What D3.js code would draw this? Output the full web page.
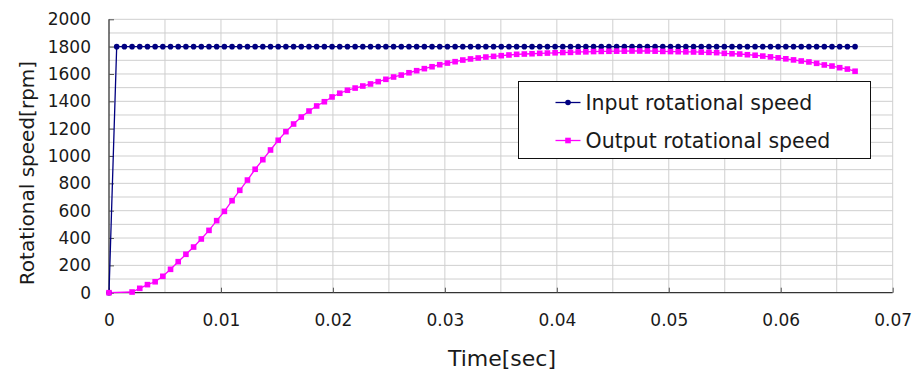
<!DOCTYPE html>
<html>
<head>
<meta charset="utf-8">
<script src="https://cdn.jsdelivr.net/npm/d3@7"></script>
<style>
  body { margin: 0; background: #fff; }
  svg { display: block; font-family: "DejaVu Sans", sans-serif; }
</style>
</head>
<body>
<script>
// sample times [sec]
const timeSec = [
  0, 0.000687, 0.001374, 0.002061, 0.002748, 0.003435, 0.004122, 0.004809, 0.005496, 0.006183,
  0.00687, 0.007557, 0.008244, 0.008931, 0.009618, 0.010305, 0.010992, 0.011679, 0.012366, 0.013053,
  0.01374, 0.014427, 0.015114, 0.015801, 0.016488, 0.017175, 0.017862, 0.018549, 0.019236, 0.019923,
  0.02061, 0.021297, 0.021984, 0.022671, 0.023358, 0.024045, 0.024732, 0.025419, 0.026106, 0.026793,
  0.02748, 0.028167, 0.028854, 0.029541, 0.030228, 0.030915, 0.031602, 0.032289, 0.032976, 0.033663,
  0.03435, 0.035037, 0.035724, 0.036411, 0.037098, 0.037785, 0.038472, 0.039159, 0.039846, 0.040533,
  0.04122, 0.041907, 0.042594, 0.043281, 0.043968, 0.044655, 0.045342, 0.046029, 0.046716, 0.047403,
  0.04809, 0.048777, 0.049464, 0.050151, 0.050838, 0.051525, 0.052212, 0.052899, 0.053586, 0.054273,
  0.05496, 0.055647, 0.056334, 0.057021, 0.057708, 0.058395, 0.059082, 0.059769, 0.060456, 0.061143,
  0.06183, 0.062517, 0.063204, 0.063891, 0.064578, 0.065265, 0.065952, 0.066639
]

// input rotational speed [rpm]
const inputSpeed = [
  0, 1800, 1800, 1800, 1800, 1800, 1800, 1800, 1800, 1800,
  1800, 1800, 1800, 1800, 1800, 1800, 1800, 1800, 1800, 1800,
  1800, 1800, 1800, 1800, 1800, 1800, 1800, 1800, 1800, 1800,
  1800, 1800, 1800, 1800, 1800, 1800, 1800, 1800, 1800, 1800,
  1800, 1800, 1800, 1800, 1800, 1800, 1800, 1800, 1800, 1800,
  1800, 1800, 1800, 1800, 1800, 1800, 1800, 1800, 1800, 1800,
  1800, 1800, 1800, 1800, 1800, 1800, 1800, 1800, 1800, 1800,
  1800, 1800, 1800, 1800, 1800, 1800, 1800, 1800, 1800, 1800,
  1800, 1800, 1800, 1800, 1800, 1800, 1800, 1800, 1800, 1800,
  1800, 1800, 1800, 1800, 1800, 1800, 1800, 1800
]

// output rotational speed [rpm] (blank cells = null)
const outputSpeed = [
  0, null, null, 5, 32, 59, 80, 120, 171, 227,
  281, 334, 393, 456, 527, 595, 673, 749, 824, 903,
  973, 1044, 1115, 1178, 1234, 1285, 1329, 1366, 1397, 1432,
  1459, 1481, 1497, 1512, 1527, 1544, 1561, 1578, 1592, 1609,
  1624, 1639, 1653, 1668, 1680, 1690, 1702, 1710, 1717, 1724,
  1729, 1734, 1739, 1744, 1746, 1748, 1751, 1753, 1755, 1757,
  1758, 1761, 1762, 1764, 1765, 1766, 1767, 1767, 1768, 1768,
  1768, 1767, 1765, 1764, 1763, 1762, 1761, 1760, 1758, 1756,
  1751, 1748, 1746, 1741, 1737, 1731, 1725, 1718, 1711, 1703,
  1695, 1688, 1678, 1666, 1658, 1646, 1636, 1620
]

const xTicks = [0, 0.01, 0.02, 0.03, 0.04, 0.05, 0.06, 0.07]
const yTicks = [0, 200, 400, 600, 800, 1000, 1200, 1400, 1600, 1800, 2000]
const seriesNames = ['Input rotational speed', 'Output rotational speed']

const config = {
  width: 914,
  height: 379,
  left: 109,
  right: 892.7,
  top: 19.3,
  bottom: 292.7,
  inputColor: '#000080',
  outputColor: '#ff00ff',
  gridColor: '#cfcfcf',
  textColor: '#1a1a1a'
}

const svg = d3.select('body').append('svg')
  .attr('width', config.width)
  .attr('height', config.height)

const x = d3.scaleLinear().domain([0, 0.07]).range([config.left, config.right])
const y = d3.scaleLinear().domain([0, 2000]).range([config.bottom, config.top])

// minor gridlines: every 0.005 sec and every 100 rpm
const grid = svg.append('g').attr('stroke', config.gridColor).attr('stroke-width', 1)
grid.selectAll('.gx')
  .data(d3.range(1, 15).map(i => i * 0.005))
  .enter().append('line')
  .attr('x1', d => x(d)).attr('x2', d => x(d))
  .attr('y1', config.top).attr('y2', config.bottom)
grid.selectAll('.gy')
  .data(d3.range(1, 21).map(i => i * 100))
  .enter().append('line')
  .attr('x1', config.left).attr('x2', config.right)
  .attr('y1', d => y(d)).attr('y2', d => y(d))

// axes, ticks inside the plot
const xAxis = svg.append('g')
  .attr('transform', `translate(0,${config.bottom})`)
  .call(d3.axisBottom(x).tickValues(xTicks).tickFormat(d => d === 0 ? '0' : d3.format('.2f')(d)).tickSize(-5).tickPadding(21))
const yAxis = svg.append('g')
  .attr('transform', `translate(${config.left},0)`)
  .call(d3.axisLeft(y).tickValues(yTicks).tickFormat(d3.format('d')).tickSize(-5).tickPadding(18))

;[xAxis, yAxis].forEach(ax => {
  ax.select('.domain').attr('stroke', '#333').attr('stroke-width', 1.3)
  ax.selectAll('.tick line').attr('stroke', '#555')
  ax.selectAll('.tick text').attr('fill', config.textColor)
    .style('font-family', '"DejaVu Sans", sans-serif').style('font-size', '17px')
})
xAxis.select('.domain').attr('d', `M${config.left},0H${config.right}`)
yAxis.select('.domain').attr('d', `M0,${config.bottom}V${config.top}`)

// series
const inputPts = timeSec.map((t, i) => [t, inputSpeed[i]])
const outputPts = timeSec.map((t, i) => [t, outputSpeed[i]]).filter(d => d[1] !== null)
const line = d3.line().x(d => x(d[0])).y(d => y(d[1]))

svg.append('path').datum(inputPts)
  .attr('d', line).attr('fill', 'none')
  .attr('stroke', config.inputColor).attr('stroke-width', 1.3)
svg.append('path').datum(outputPts)
  .attr('d', line).attr('fill', 'none')
  .attr('stroke', config.outputColor).attr('stroke-width', 1.3)

svg.append('g').selectAll('circle')
  .data(inputPts).enter().append('circle')
  .attr('cx', d => x(d[0])).attr('cy', d => y(d[1])).attr('r', 2.8)
  .attr('fill', config.inputColor)
svg.append('g').selectAll('rect')
  .data(outputPts).enter().append('rect')
  .attr('x', d => x(d[0]) - 2.8).attr('y', d => y(d[1]) - 2.8)
  .attr('width', 5.6).attr('height', 5.6)
  .attr('fill', config.outputColor)

// axis titles
svg.append('text')
  .attr('x', 502).attr('y', 366)
  .attr('text-anchor', 'middle')
  .attr('fill', config.textColor)
  .style('font-size', '22px')
  .text('Time[sec]')
svg.append('text')
  .attr('transform', 'translate(34,173) rotate(-90)')
  .attr('text-anchor', 'middle')
  .attr('fill', config.textColor)
  .style('font-size', '20px')
  .text('Rotational speed[rpm]')

// legend
const legend = svg.append('g').attr('transform', 'translate(518.5,81.5)')
legend.append('rect')
  .attr('width', 352).attr('height', 77)
  .attr('fill', '#fff').attr('stroke', '#111').attr('stroke-width', 1)
const items = legend.selectAll('.item')
  .data(seriesNames).enter().append('g')
  .attr('transform', (d, i) => `translate(0,${21 + i * 38})`)
items.append('line')
  .attr('x1', 37).attr('x2', 62)
  .attr('stroke', (d, i) => i ? config.outputColor : config.inputColor).attr('stroke-width', 1.3)
items.filter((d, i) => i === 0).append('circle')
  .attr('cx', 49.5).attr('r', 2.8).attr('fill', config.inputColor)
items.filter((d, i) => i === 1).append('rect')
  .attr('x', 46.7).attr('y', -2.8).attr('width', 5.6).attr('height', 5.6).attr('fill', config.outputColor)
items.append('text')
  .attr('x', 67).attr('dy', '0.35em')
  .attr('fill', config.textColor)
  .style('font-size', '20.5px')
  .text(d => d)
</script>
</body>
</html>
